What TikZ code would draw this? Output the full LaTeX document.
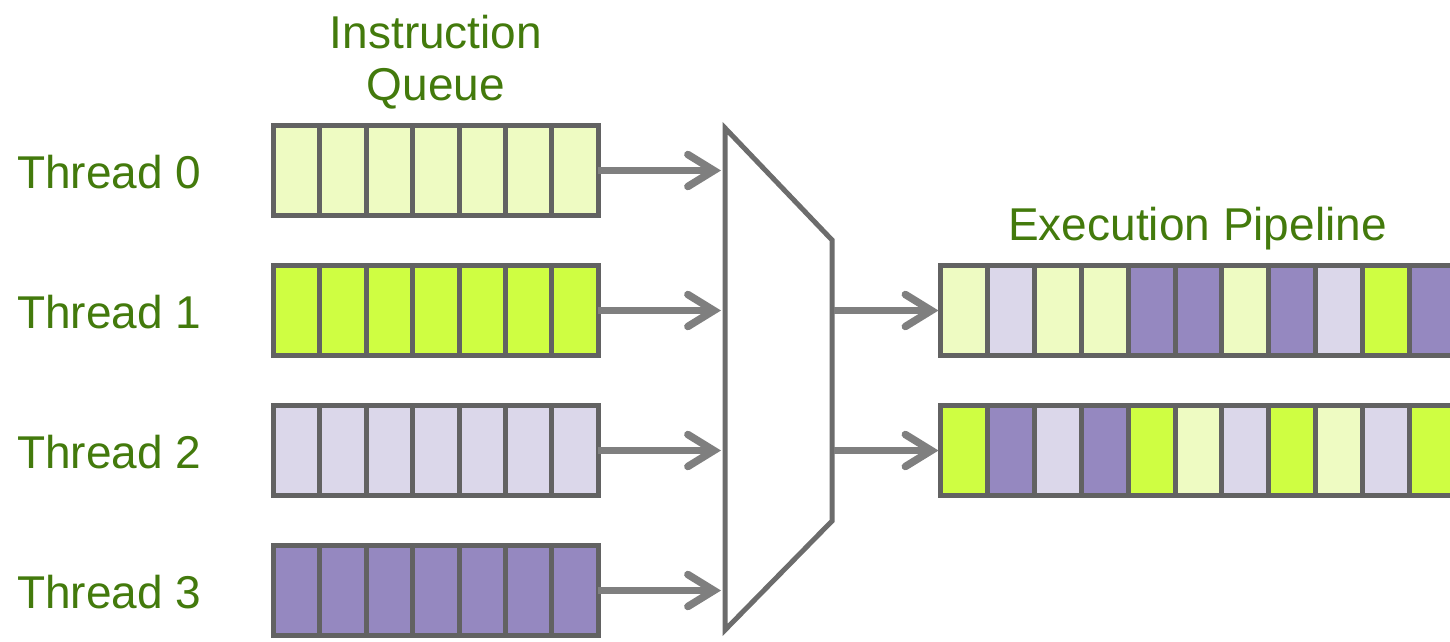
\documentclass[tikz,border=0pt]{standalone}
\usepackage{fontspec}
\setmainfont{Liberation Sans}
\usetikzlibrary{arrows.meta}

\definecolor{lgreen}{HTML}{EEFBC2}
\definecolor{vgreen}{HTML}{CFFE42}
\definecolor{lpurple}{HTML}{DBD7EA}
\definecolor{dpurple}{HTML}{9588C0}
\definecolor{cellborder}{HTML}{626262}
\definecolor{arrowgray}{HTML}{7F7F7F}
\definecolor{muxgray}{HTML}{6C6C6C}
\definecolor{labelgreen}{HTML}{437A0C}

\begin{document}
\begin{tikzpicture}[x=1pt,y=-1pt,
  cell/.style={shape=rectangle, draw=cellborder, line width=5pt,
    minimum width=46.4pt, minimum height=90pt, inner sep=0pt, outer sep=0pt},
  pipecell/.style={cell, minimum width=46.9pt},
  lbl/.style={text=labelgreen, font=\fontsize{46}{54}\selectfont, inner sep=0pt},
  flow/.style={draw=arrowgray, line width=6.5pt,
    -{Straight Barb[length=26pt,width=32pt,line width=7.5pt,line cap=round]}},
  muxline/.style={draw=muxgray, line width=5pt, line join=miter, fill=white}]

\useasboundingbox (0,0) rectangle (1450,641);
\clip (0,0) rectangle (1450,641);

% per-thread instruction queues
\foreach \r/\col in {0/lgreen,1/vgreen,2/lpurple,3/dpurple}{
  \foreach \c in {1,...,7}{
    \node[cell, fill=\col] (q\r-\c) at ({273.5+46.4*(\c-0.5)},{170.5+140*\r}) {};
  }
  \node[lbl, anchor=base west] (t\r) at (17,{188+140*\r}) {Thread \r};
}

\node[lbl, anchor=base] (iq1) at (436,48) {Instruction};
\node[lbl, anchor=base] (iq2) at (436,100) {Queue};

% selector (multiplexer)
\draw[muxline] (725,128) -- (832,240) -- (832,521) -- (725,630) -- cycle;
\foreach \r in {0,...,3}{
  \coordinate (mux-in\r) at (721,{170.5+140*\r});
}
\coordinate (mux-out0) at (834,310.5);
\coordinate (mux-out1) at (834,450.5);

% execution pipelines
\foreach [count=\c] \col in {lgreen,lpurple,lgreen,lgreen,dpurple,dpurple,lgreen,dpurple,lpurple,vgreen,dpurple}{
  \node[pipecell, fill=\col] (pa-\c) at ({940.5+46.9*(\c-0.5)},310.5) {};
}
\foreach [count=\c] \col in {vgreen,dpurple,lpurple,dpurple,vgreen,lgreen,lpurple,vgreen,lgreen,lpurple,vgreen}{
  \node[pipecell, fill=\col] (pb-\c) at ({940.5+46.9*(\c-0.5)},450.5) {};
}
\node[lbl, anchor=base] (ep) at (1197.5,240) {Execution Pipeline};

% connectors
\foreach \r in {0,...,3}{
  \draw[flow] (q\r-7.east) -- (mux-in\r);
}
\draw[flow] (mux-out0) -- ([xshift=-2pt]pa-1.west);
\draw[flow] (mux-out1) -- ([xshift=-2pt]pb-1.west);

\end{tikzpicture}
\end{document}
